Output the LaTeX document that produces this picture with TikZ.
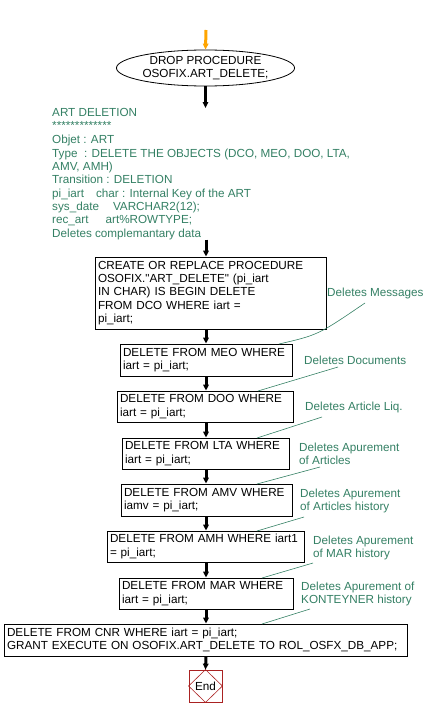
\documentclass[tikz,border=0pt]{standalone}
\usepackage{fontspec}
\newfontfamily\diafont{Liberation Sans}
\usetikzlibrary{arrows.meta,shapes.geometric}
\definecolor{notegreen}{RGB}{52,128,100}
\definecolor{endred}{RGB}{170,34,34}
\definecolor{startorange}{RGB}{255,165,0}
\begin{document}
\begin{tikzpicture}[x=1pt,y=-1pt,
  every node/.style={font=\diafont\fontsize{11.7}{13.3}\selectfont},
  box/.style={draw, line width=0.8pt, align=left, inner xsep=3pt, inner ysep=0pt},
  note/.style={text=notegreen, align=left, inner sep=0pt, anchor=west},
  flow/.style={line width=3pt, -{Triangle[length=6pt,width=5.5pt]}},
  link/.style={draw=notegreen, line width=0.6pt}]
\useasboundingbox (0,0) rectangle (436,717);
\coordinate (axis) at (206,0);
\coordinate (top) at (206,30);

% start ellipse
\node[draw, ellipse, line width=0.8pt, minimum width=147pt, minimum height=36pt, inner sep=0pt, align=center] (start) at (205.5,68) {DROP PROCEDURE\\OSOFIX.ART\_DELETE;};

% comment block
\node[note, anchor=north west] (cmt) at (52,108) {ART DELETION\\
*************\\[1pt]
Objet : ART\\
Type\ \ : DELETE THE OBJECTS (DCO, MEO, DOO, LTA,\\
AMV, AMH)\\
Transition : DELETION\\
pi\_iart\hspace{12pt}char : Internal Key of the ART\\
sys\_date\hspace{14pt}VARCHAR2(12);\\
rec\_art\hspace{17pt}art\%ROWTYPE;\\
Deletes complemantary data};

% boxes
\node[box, minimum width=231pt, minimum height=72pt, text width=225pt] (b1) at (210.5,293) {CREATE OR REPLACE PROCEDURE\\OSOFIX."ART\_DELETE" (pi\_iart\\IN CHAR) IS BEGIN DELETE\\FROM DCO WHERE iart =\\pi\_iart;};
\node[box, minimum width=172pt, minimum height=32pt, text width=166pt] (b2) at (206,360) {DELETE FROM MEO WHERE\\iart = pi\_iart;};
\node[box, minimum width=176pt, minimum height=31pt, text width=170pt] (b3) at (205,406.5) {DELETE FROM DOO WHERE\\iart = pi\_iart;};
\node[box, minimum width=167pt, minimum height=31pt, text width=161pt] (b4) at (205.5,453.5) {DELETE FROM LTA WHERE\\iart = pi\_iart;};
\node[box, minimum width=171pt, minimum height=32pt, text width=165pt] (b5) at (206.5,500) {DELETE FROM AMV WHERE\\iamv = pi\_iart;};
\node[box, minimum width=197pt, minimum height=31pt, text width=191pt] (b6) at (205.5,546.5) {DELETE FROM AMH WHERE iart1\\= pi\_iart;};
\node[box, minimum width=174pt, minimum height=31pt, text width=168pt] (b7) at (206,593.5) {DELETE FROM MAR WHERE\\iart = pi\_iart;};
\node[box, minimum width=403pt, minimum height=32pt, text width=397pt] (b8) at (205.5,640) {DELETE FROM CNR WHERE iart = pi\_iart;\\GRANT EXECUTE ON OSOFIX.ART\_DELETE TO ROL\_OSFX\_DB\_APP;};

% end
\node[draw=endred, line width=0.8pt, minimum width=33pt, minimum height=32pt, inner sep=0pt] (end) at (205.5,686) {End};
\draw[endred, line width=0.6pt] (end.north) -- (end.east) -- (end.south) -- (end.west) -- cycle;

% notes
\node[note] (n1) at (327,293) {Deletes Messages};
\node[note] (n2) at (304,360) {Deletes Documents};
\node[note] (n3) at (305,407) {Deletes Article Liq.};
\node[note] (n4) at (299,454) {Deletes Apurement\\of Articles};
\node[note] (n5) at (300,501) {Deletes Apurement\\of Articles history};
\node[note] (n6) at (313,548) {Deletes Apurement\\of MAR history};
\node[note] (n7) at (301,594) {Deletes Apurement of\\KONTEYNER history};

% note link points
\coordinate (s1) at (365,303); \coordinate (e1) at (279,344);
\coordinate (s2) at (338,367); \coordinate (e2) at (258,391);
\coordinate (s3) at (322,417); \coordinate (e3) at (257,438);
\coordinate (s4) at (320,467); \coordinate (e4) at (257,484);
\coordinate (s5) at (304,517); \coordinate (e5) at (257,531);
\coordinate (s6) at (313,563); \coordinate (e6) at (262,578);
\coordinate (s7) at (310,609); \coordinate (e7) at (262,624);
\draw[link] (s1) .. controls (318,335) .. (e1);
\draw[link] (s2) -- (e2);
\draw[link] (s3) -- (e3);
\draw[link] (s4) -- (e4);
\draw[link] (s5) -- (e5);
\draw[link] (s6) -- (e6);
\draw[link] (s7) -- (e7);

% flow arrows
\draw[flow, startorange] (top) -- (start.north);
\draw[flow] (start.south) -- (start.south |- cmt.north);
\draw[flow] (axis |- cmt.south) -- (axis |- b1.north);
\draw[flow] (axis |- b1.south) -- (axis |- b2.north);
\draw[flow] (axis |- b2.south) -- (axis |- b3.north);
\draw[flow] (axis |- b3.south) -- (axis |- b4.north);
\draw[flow] (axis |- b4.south) -- (axis |- b5.north);
\draw[flow] (axis |- b5.south) -- (axis |- b6.north);
\draw[flow] (axis |- b6.south) -- (axis |- b7.north);
\draw[flow] (axis |- b7.south) -- (axis |- b8.north);
\draw[flow] (axis |- b8.south) -- (end.north);
\end{tikzpicture}
\end{document}
